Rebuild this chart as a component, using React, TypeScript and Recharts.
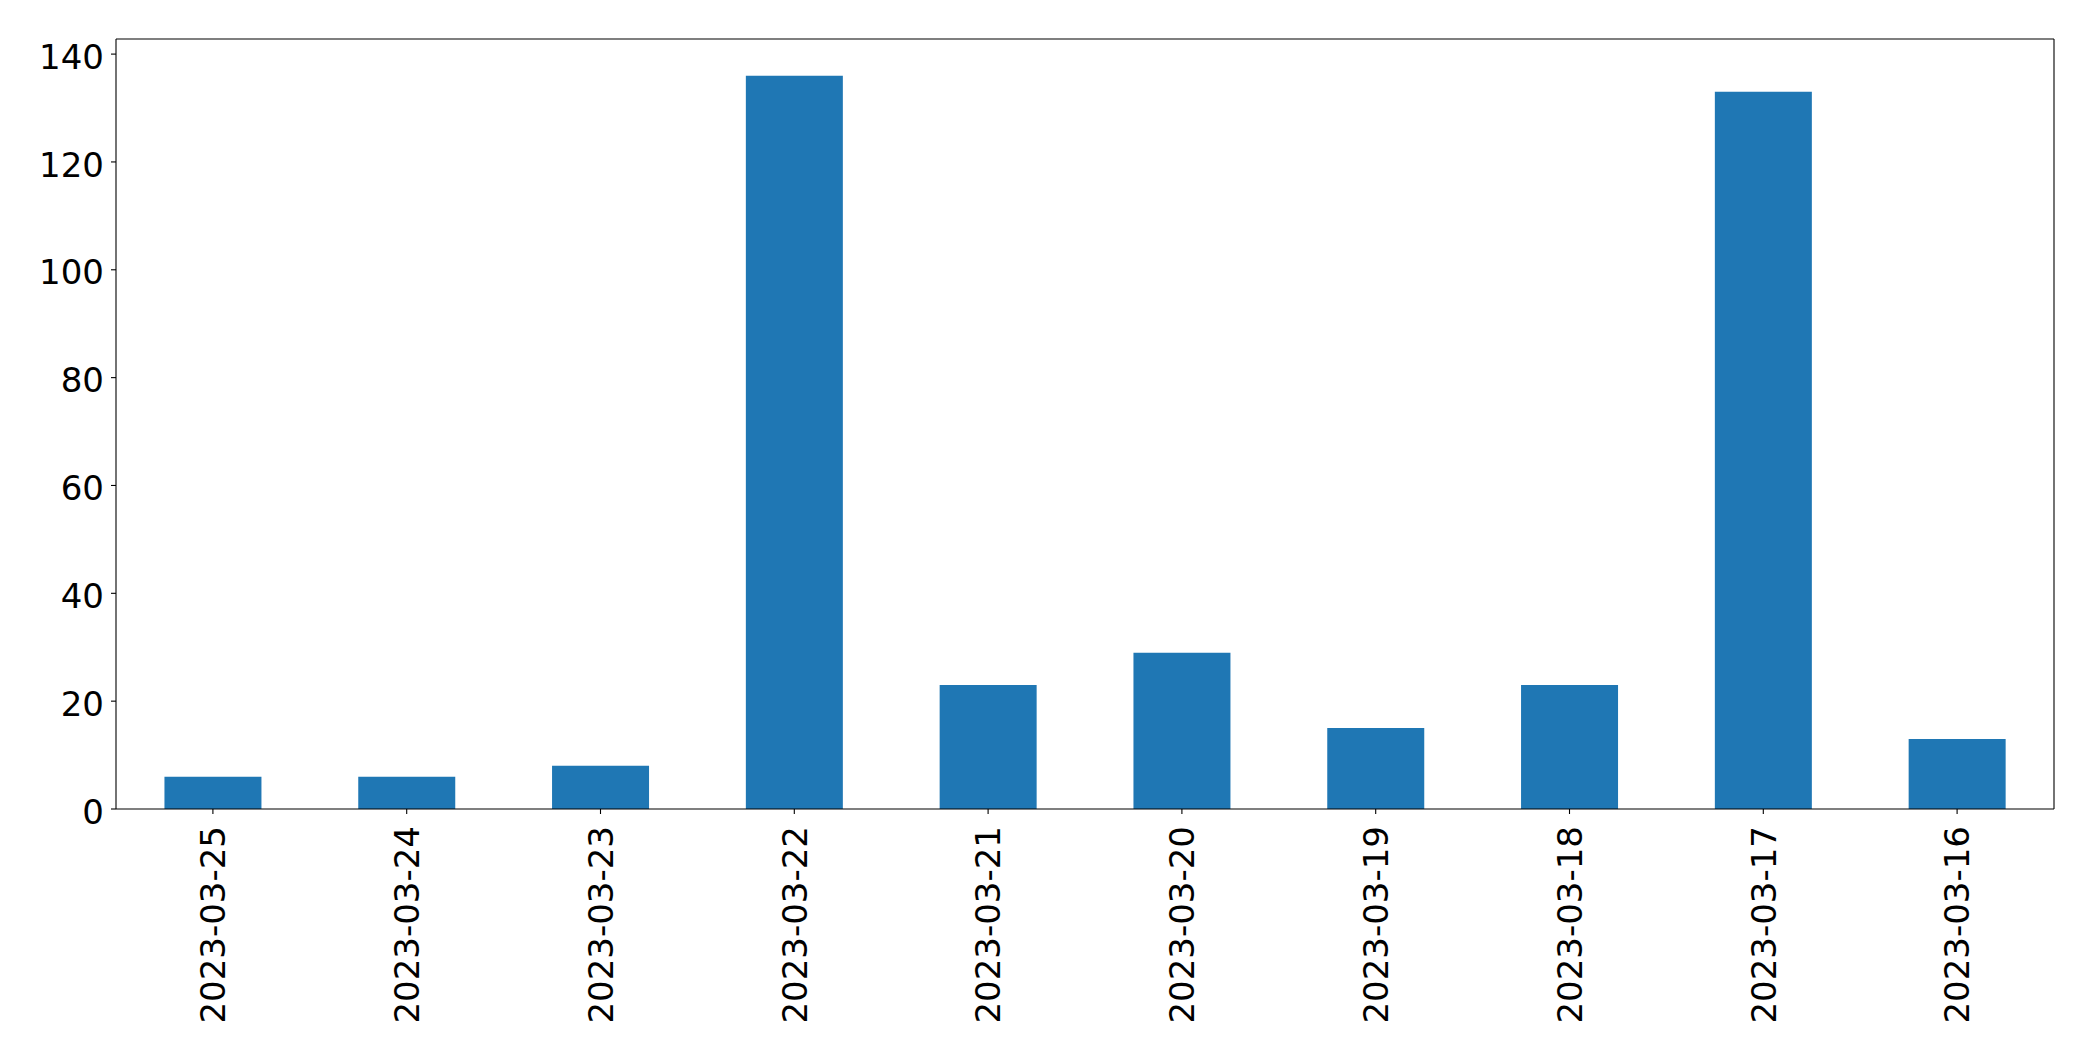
import React from "react";
import { BarChart, Bar, XAxis, YAxis } from "recharts";

const dates = [
  "2023-03-25",
  "2023-03-24",
  "2023-03-23",
  "2023-03-22",
  "2023-03-21",
  "2023-03-20",
  "2023-03-19",
  "2023-03-18",
  "2023-03-17",
  "2023-03-16",
];
const counts = [6, 6, 8, 136, 23, 29, 15, 23, 133, 13];
const yTicks = [0, 20, 40, 60, 80, 100, 120, 140];

const data = dates.map((d, i) => ({ date: d, count: counts[i] }));

const FONT = "'DejaVu Sans', sans-serif";
const FS = 34;

const XTick = (props: any) => {
  const { x, y, payload } = props;
  return (
    <text
      x={x}
      y={y}
      transform={`rotate(-90, ${x}, ${y})`}
      textAnchor="end"
      dy="0.36em"
      fontSize={FS}
      fontFamily={FONT}
      fill="#000"
    >
      {payload.value}
    </text>
  );
};

const YTick = (props: any) => {
  const { x, y, payload } = props;
  return (
    <text
      x={x}
      y={y}
      textAnchor="end"
      dy="0.43em"
      fontSize={FS}
      fontFamily={FONT}
      fill="#000"
    >
      {payload.value}
    </text>
  );
};

export default function App() {
  return (
    <div style={{ position: "absolute", left: 0, top: 0, width: 2093, height: 1061, background: "#fff" }}>
      <BarChart
        width={2093}
        height={1061}
        data={data}
        margin={{ top: 38, right: 38, bottom: 0, left: 0 }}
        barCategoryGap="25%"
      >
        <XAxis
          dataKey="date"
          xAxisId="main"
          height={252}
          interval={0}
          tickSize={5}
          tickMargin={12}
          tick={<XTick />}
          axisLine={{ stroke: "#000", strokeWidth: 1.1 }}
          tickLine={{ stroke: "#000", strokeWidth: 1.1 }}
        />
        <XAxis
          dataKey="date"
          xAxisId="top"
          orientation="top"
          height={1}
          tick={false}
          tickLine={false}
          axisLine={{ stroke: "#000", strokeWidth: 1.1 }}
        />
        <YAxis
          yAxisId="main"
          width={116}
          domain={[0, 142.8]}
          ticks={yTicks}
          interval={0}
          tickSize={5}
          tickMargin={7}
          tick={<YTick />}
          axisLine={{ stroke: "#000", strokeWidth: 1.1 }}
          tickLine={{ stroke: "#000", strokeWidth: 1.1 }}
          allowDataOverflow
        />
        <YAxis
          yAxisId="right"
          orientation="right"
          width={1}
          domain={[0, 142.8]}
          tick={false}
          tickLine={false}
          axisLine={{ stroke: "#000", strokeWidth: 1.1 }}
        />
        <Bar
          dataKey="count"
          xAxisId="main"
          yAxisId="main"
          fill="#1f77b4"
          isAnimationActive={false}
        />
      </BarChart>
    </div>
  );
}
